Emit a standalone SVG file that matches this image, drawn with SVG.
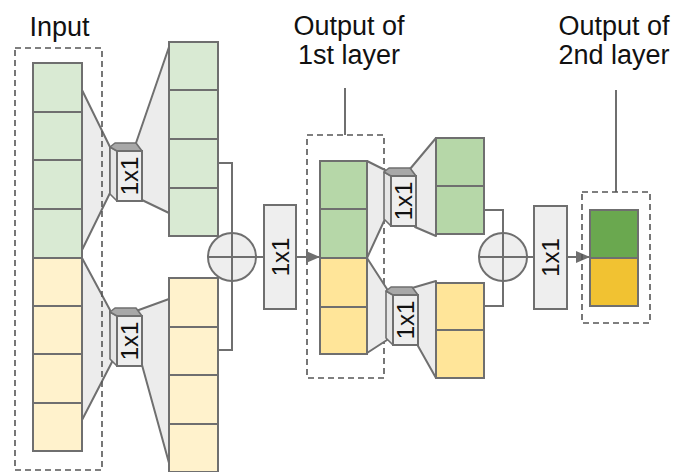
<svg xmlns="http://www.w3.org/2000/svg" width="674" height="472" viewBox="0 0 674 472">
<style>
.lbl{font-family:"Liberation Sans",Arial,sans-serif;font-size:27px;fill:#111;}
.k{font-family:"Liberation Sans",Arial,sans-serif;font-size:24px;fill:#111;}
.ln{stroke:#6f6f6f;stroke-width:2;fill:none;}
.fun{fill:#ececec;stroke:#6f6f6f;stroke-width:2;stroke-linejoin:round;}
.g1{fill:#d9ead3;stroke:#6f6f6f;stroke-width:2;}
.y1{fill:#fff2cc;stroke:#6f6f6f;stroke-width:2;}
.g2{fill:#b6d7a8;stroke:#6f6f6f;stroke-width:2;}
.y2{fill:#ffe599;stroke:#6f6f6f;stroke-width:2;}
.g3{fill:#6aa84f;stroke:#6f6f6f;stroke-width:2;}
.y3{fill:#f1c232;stroke:#6f6f6f;stroke-width:2;}
.dash{fill:none;stroke:#555;stroke-width:1.6;stroke-dasharray:6 4;}
.box{fill:#eeeeee;stroke:#6f6f6f;stroke-width:2;}
.side{fill:#e6e6e6;stroke:#6f6f6f;stroke-width:1.6;stroke-linejoin:round;}
.top{fill:#a8a8a8;stroke:#6f6f6f;stroke-width:1.6;stroke-linejoin:round;}
.front{fill:#eeeeee;stroke:#6f6f6f;stroke-width:2;}
</style>
<defs>
<marker id="arr" markerWidth="14" markerHeight="12" refX="14" refY="6" orient="auto" markerUnits="userSpaceOnUse">
<path d="M0,0 L14,6 L0,12 Z" fill="#6f6f6f"/>
</marker>
<g id="cube">
<polygon class="side" points="-7,-4 0,0 0,50 -7,43"/>
<polygon class="top" points="-7,-4 -2,-8 19,-8 25,0 0,0"/>
<rect class="front" x="0" y="0" width="25" height="50"/>
</g>
</defs>

<g id="labels">
<text class="lbl" x="59.5" y="36" text-anchor="middle">Input</text>
<text class="lbl" x="349" y="35" text-anchor="middle">Output of</text>
<text class="lbl" x="349" y="64" text-anchor="middle">1st layer</text>
<text class="lbl" x="614" y="35" text-anchor="middle">Output of</text>
<text class="lbl" x="614" y="64" text-anchor="middle">2nd layer</text>
</g>

<g id="layer1-frame">
<rect class="dash" x="307" y="135" width="77" height="243"/>
</g>

<g id="funnels">
<polygon class="fun" points="82,90 110,147 110,193 82,250"/>
<polygon class="fun" points="136,143 169,47 169,213 142,200"/>
<polygon class="fun" points="82,258 110,310 112,362 82,420"/>
<polygon class="fun" points="136,311 169,299 169,463 142,365"/>
<polygon class="fun" points="367,161 385,170 385,219 367,258"/>
<polygon class="fun" points="410,169 436,138 436,236 415,227"/>
<polygon class="fun" points="367,258 387,289 387,340 367,353"/>
<polygon class="fun" points="412,288 436,281 436,378 418,346"/>
</g>

<g id="connectors">
<polyline class="ln" points="218,163 232,163 232,233"/>
<polyline class="ln" points="218,350 232,350 232,281"/>
<line class="ln" x1="256" y1="257" x2="264" y2="257"/>
<line class="ln" x1="296" y1="257" x2="320" y2="257" marker-end="url(#arr)"/>
<line class="ln" x1="345" y1="88" x2="345" y2="135"/>
<polyline class="ln" points="484,210 503,210 503,233"/>
<polyline class="ln" points="484,306 503,306 503,281"/>
<line class="ln" x1="527" y1="257" x2="534" y2="257"/>
<line class="ln" x1="567" y1="257" x2="590" y2="257" marker-end="url(#arr)"/>
<line class="ln" x1="616" y1="90" x2="616" y2="192"/>
</g>

<g id="input">
<rect class="dash" x="15" y="48" width="87" height="422"/>
<rect class="g1" x="33" y="63" width="49" height="49"/>
<rect class="g1" x="33" y="112" width="49" height="48"/>
<rect class="g1" x="33" y="160" width="49" height="49"/>
<rect class="g1" x="33" y="209" width="49" height="49"/>
<rect class="y1" x="33" y="258" width="49" height="48"/>
<rect class="y1" x="33" y="306" width="49" height="48"/>
<rect class="y1" x="33" y="354" width="49" height="49"/>
<rect class="y1" x="33" y="403" width="49" height="48"/>
</g>

<g id="conv1a">
<use href="#cube" x="117" y="151"/>
<text class="k" transform="translate(129.5,176) rotate(-90)" text-anchor="middle" dominant-baseline="central">1x1</text>
</g>
<g id="conv1b">
<use href="#cube" x="117" y="316"/>
<text class="k" transform="translate(129.5,341) rotate(-90)" text-anchor="middle" dominant-baseline="central">1x1</text>
</g>

<g id="out1a">
<rect class="g1" x="169" y="42" width="49" height="48"/>
<rect class="g1" x="169" y="90" width="49" height="49"/>
<rect class="g1" x="169" y="139" width="49" height="49"/>
<rect class="g1" x="169" y="188" width="49" height="48"/>
</g>
<g id="out1b">
<rect class="y1" x="169" y="278" width="49" height="49"/>
<rect class="y1" x="169" y="327" width="49" height="48"/>
<rect class="y1" x="169" y="375" width="49" height="49"/>
<rect class="y1" x="169" y="424" width="49" height="48"/>
</g>

<g id="sum1">
<circle class="box" cx="232" cy="257" r="24"/>
<line class="ln" x1="208" y1="257" x2="256" y2="257"/>
<line class="ln" x1="232" y1="233" x2="232" y2="281"/>
</g>

<g id="mix1">
<rect class="box" x="264" y="205" width="32" height="104"/>
<text class="k" transform="translate(280,257) rotate(-90)" text-anchor="middle" dominant-baseline="central">1x1</text>
</g>

<g id="layer1">
<rect class="g2" x="320" y="161" width="47" height="48"/>
<rect class="g2" x="320" y="209" width="47" height="49"/>
<rect class="y2" x="320" y="258" width="47" height="49"/>
<rect class="y2" x="320" y="307" width="47" height="47"/>
</g>

<g id="conv2a">
<use href="#cube" x="391" y="176"/>
<text class="k" transform="translate(403.5,201) rotate(-90)" text-anchor="middle" dominant-baseline="central">1x1</text>
</g>
<g id="conv2b">
<use href="#cube" x="393" y="295"/>
<text class="k" transform="translate(405.5,320) rotate(-90)" text-anchor="middle" dominant-baseline="central">1x1</text>
</g>

<g id="out2a">
<rect class="g2" x="436" y="138" width="48" height="48"/>
<rect class="g2" x="436" y="186" width="48" height="48"/>
</g>
<g id="out2b">
<rect class="y2" x="436" y="283" width="48" height="47"/>
<rect class="y2" x="436" y="330" width="48" height="48"/>
</g>

<g id="sum2">
<circle class="box" cx="503" cy="257" r="24"/>
<line class="ln" x1="479" y1="257" x2="527" y2="257"/>
<line class="ln" x1="503" y1="233" x2="503" y2="281"/>
</g>

<g id="mix2">
<rect class="box" x="534" y="206" width="33" height="103"/>
<text class="k" transform="translate(550.5,257.5) rotate(-90)" text-anchor="middle" dominant-baseline="central">1x1</text>
</g>

<g id="layer2">
<rect class="dash" x="582" y="192" width="68" height="131"/>
<rect class="g3" x="590" y="210" width="48" height="48"/>
<rect class="y3" x="590" y="258" width="48" height="48"/>
</g>
</svg>
